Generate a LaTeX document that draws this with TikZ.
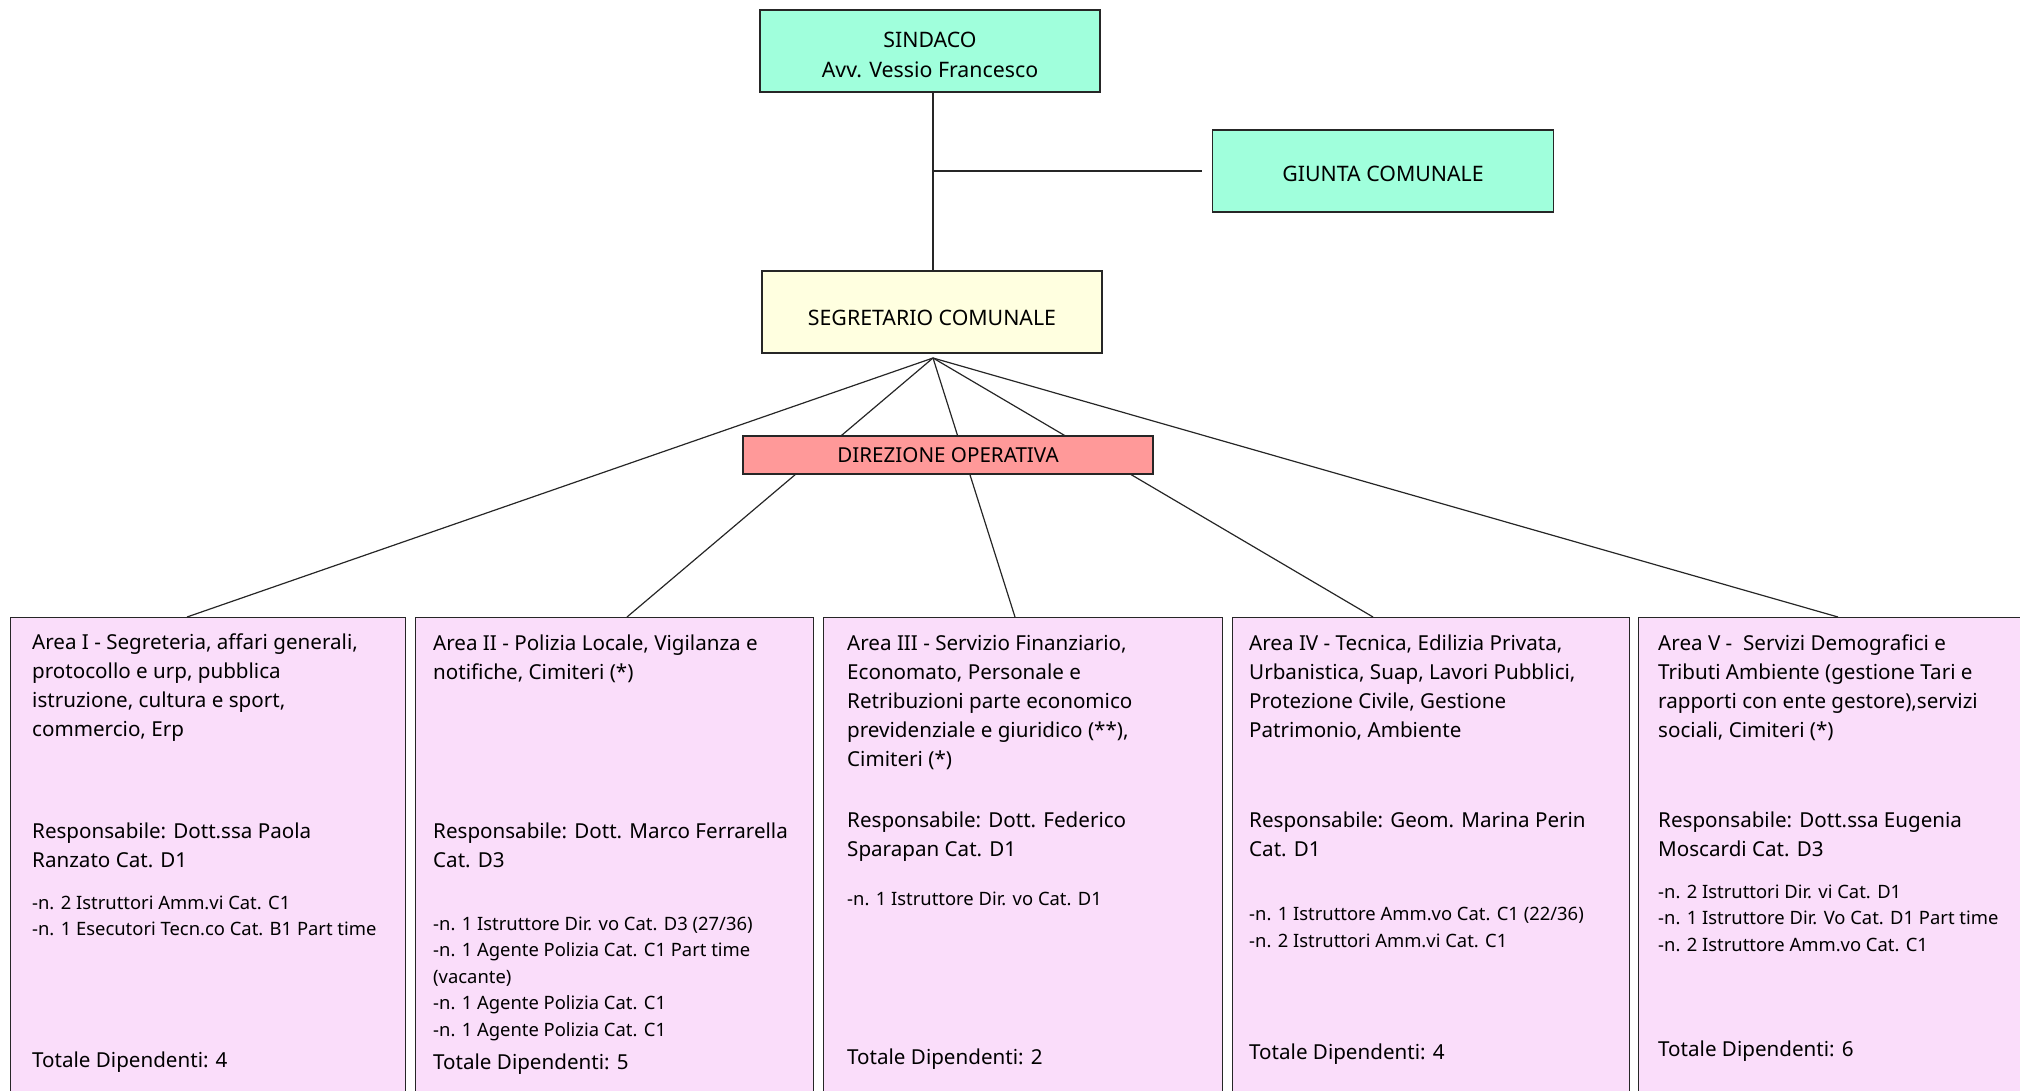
\documentclass[tikz,border=0pt]{standalone}
\usepackage{fontspec}
\setmainfont{Noto Sans}
\usepackage{xcolor}
\usepackage{tikz}
\usetikzlibrary{positioning,calc}

\definecolor{sindacocol}{RGB}{160,255,220}
\definecolor{segrcol}{RGB}{255,255,224}
\definecolor{dircol}{RGB}{255,153,153}
\definecolor{areacol}{RGB}{250,221,250}
\newcommand{\topfont}{\fontsize{21.3}{30}\selectfont}
\newcommand{\areafont}{\fontsize{20.6}{29}\selectfont}
\newcommand{\stafffont}{\fontsize{18.4}{26.5}\selectfont}

\begin{document}
\begin{tikzpicture}[x=1pt, y=-1pt,
    box/.style={draw=black!85, line width=1.4pt, inner sep=0pt},
    topbox/.style={box, minimum width=340pt, minimum height=82pt},
    toptext/.style={align=center, inner sep=0pt, font=\topfont},
    areabox/.style={box, fill=areacol, anchor=north west, minimum height=520pt},
    areatext/.style={anchor=north west, yshift=20.3pt, align=left, inner sep=0pt, font=\areafont, execute at begin node=\strut},
    stafftext/.style={anchor=north west, yshift=18.55pt, align=left, inner sep=0pt, font=\stafffont, execute at begin node=\strut},
    link/.style={draw=black!85, line width=1.2pt}]
    \useasboundingbox (0,0) rectangle (2020,1091);
    \clip (0,0) rectangle (2020,1091);

    % vertici
    \node[topbox, fill=sindacocol] (sindaco) at (930,51) {};
    \node[toptext] (sindacotxt) at ([yshift=-4pt]sindaco.center) {SINDACO\\Avv. Vessio Francesco};
    \node[topbox, fill=sindacocol, minimum width=341pt] (giunta) at (1383,171) {};
    \node[toptext] (giuntatxt) at ([yshift=-3pt]giunta.center) {GIUNTA COMUNALE};
    \node[topbox, fill=segrcol] (segretario) at (932,312) {};
    \node[toptext] (segretariotxt) at ([yshift=-6pt]segretario.center) {SEGRETARIO COMUNALE};
    \coordinate (apex) at (933,358);
    \draw[link] (sindaco.south -| apex) -- (segretario.north -| apex);
    \draw[link] (apex |- giunta.west) -- ([xshift=-10pt]giunta.west);

    % aree
    \node[areabox, minimum width=395pt] (a1) at (10,617) {};
    \node[areabox, minimum width=398pt] (a2) at (415,617) {};
    \node[areabox, minimum width=399pt] (a3) at (823,617) {};
    \node[areabox, minimum width=397pt] (a4) at (1232,617) {};
    \node[areabox, minimum width=410pt] (a5) at (1638,617) {};

    % collegamenti
    \coordinate (a1in) at (187,617);
    \coordinate (a2in) at (627,617);
    \coordinate (a3in) at (1015,617);
    \coordinate (a4in) at (1373,617);
    \coordinate (a5in) at (1838,617);
    \foreach \c in {a1in,a2in,a3in,a4in,a5in}
        \draw[link] (apex) -- (\c);

    \node[box, fill=dircol, minimum width=410pt, minimum height=38pt, font=\areafont] (direzione) at (948,455) {DIREZIONE OPERATIVA};

    % Area I
    \node[areatext] (t1) at (32,654) {Area I - Segreteria, affari generali,\\protocollo e urp, pubblica\\istruzione, cultura e sport,\\commercio, Erp};
    \node[areatext] (r1) at (32,843) {Responsabile: Dott.ssa Paola\\Ranzato Cat. D1};
    \node[stafftext] (s1) at (32,914) {-n. 2 Istruttori Amm.vi Cat. C1\\-n. 1 Esecutori Tecn.co Cat. B1 Part time};
    \node[areatext] (n1) at (32,1067) {Totale Dipendenti: 4};

    % Area II
    \node[areatext] (t2) at (433,655) {Area II - Polizia Locale, Vigilanza e\\notifiche, Cimiteri (*)};
    \node[areatext] (r2) at (433,843) {Responsabile: Dott. Marco Ferrarella\\Cat. D3};
    \node[stafftext] (s2) at (433,935) {-n. 1 Istruttore Dir. vo Cat. D3 (27/36)\\-n. 1 Agente Polizia Cat. C1 Part time\\(vacante)\\-n. 1 Agente Polizia Cat. C1\\-n. 1 Agente Polizia Cat. C1};
    \node[areatext] (n2) at (433,1069) {Totale Dipendenti: 5};

    % Area III
    \node[areatext] (t3) at (847,655) {Area III - Servizio Finanziario,\\Economato, Personale e\\Retribuzioni parte economico\\previdenziale e giuridico (**),\\Cimiteri (*)};
    \node[areatext] (r3) at (847,832) {Responsabile: Dott. Federico\\Sparapan Cat. D1};
    \node[stafftext] (s3) at (847,905) {-n. 1 Istruttore Dir. vo Cat. D1};
    \node[areatext] (n3) at (847,1064) {Totale Dipendenti: 2};

    % Area IV
    \node[areatext] (t4) at (1249,655) {Area IV - Tecnica, Edilizia Privata,\\Urbanistica, Suap, Lavori Pubblici,\\Protezione Civile, Gestione\\Patrimonio, Ambiente};
    \node[areatext] (r4) at (1249,832) {Responsabile: Geom. Marina Perin\\Cat. D1};
    \node[stafftext] (s4) at (1249,926) {-n. 1 Istruttore Amm.vo Cat. C1 (22/36)\\-n. 2 Istruttori Amm.vi Cat. C1};
    \node[areatext] (n4) at (1249,1059) {Totale Dipendenti: 4};

    % Area V
    \node[areatext] (t5) at (1658,655) {Area V - \ Servizi Demografici e\\Tributi Ambiente (gestione Tari e\\rapporti con ente gestore),servizi\\sociali, Cimiteri (*)};
    \node[areatext] (r5) at (1658,832) {Responsabile: Dott.ssa Eugenia\\Moscardi Cat. D3};
    \node[stafftext] (s5) at (1658,903) {-n. 2 Istruttori Dir. vi Cat. D1\\-n. 1 Istruttore Dir. Vo Cat. D1 Part time\\-n. 2 Istruttore Amm.vo Cat. C1};
    \node[areatext] (n5) at (1658,1056) {Totale Dipendenti: 6};
\end{tikzpicture}
\end{document}
